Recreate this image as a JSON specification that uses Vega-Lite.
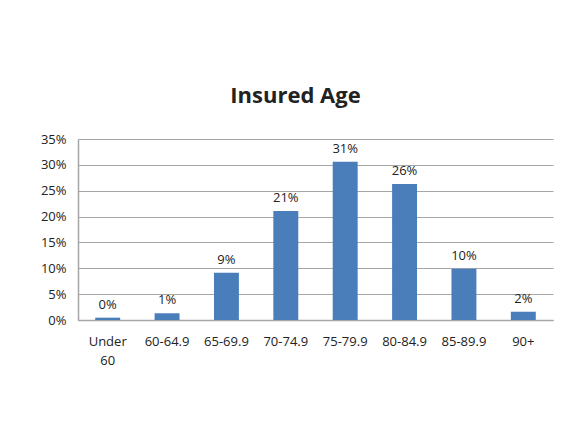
{
  "$schema": "https://vega.github.io/schema/vega-lite/v6.json",
  "width": 475,
  "height": 181,
  "autosize": "none",
  "padding": {"left": 78, "top": 139, "right": 14, "bottom": 123},
  "background": "white",
  "title": {
    "text": "Insured Age",
    "font": "Open Sans",
    "fontSize": 22,
    "fontWeight": "bold",
    "color": "#222222",
    "anchor": "middle",
    "dx": -20,
    "offset": 25
  },
  "data": {
    "values": [
      {"age": "Under 60", "share": 0.0045},
      {"age": "60-64.9", "share": 0.013},
      {"age": "65-69.9", "share": 0.0915},
      {"age": "70-74.9", "share": 0.211},
      {"age": "75-79.9", "share": 0.306},
      {"age": "80-84.9", "share": 0.263},
      {"age": "85-89.9", "share": 0.099},
      {"age": "90+", "share": 0.016}
    ]
  },
  "encoding": {
    "x": {
      "field": "age",
      "type": "nominal",
      "sort": null,
      "scale": {"paddingInner": 0.58, "paddingOuter": 0.29},
      "axis": {
        "title": null,
        "labelAngle": 0,
        "labelFont": "Open Sans",
        "labelFontSize": 13,
        "labelColor": "#222222",
        "labelPadding": 15,
        "labelLineHeight": 19,
        "labelExpr": "split(datum.label, ' ')",
        "ticks": false,
        "domainColor": "#a6a6a6",
        "domainWidth": 1.5
      }
    },
    "y": {
      "field": "share",
      "type": "quantitative",
      "scale": {"domain": [0, 0.35], "nice": false},
      "axis": {
        "title": null,
        "values": [0, 0.05, 0.1, 0.15, 0.2, 0.25, 0.3, 0.35],
        "format": ".0%",
        "labelFont": "Open Sans",
        "labelFontSize": 13,
        "labelColor": "#222222",
        "labelPadding": 12,
        "ticks": false,
        "gridColor": "#a6a6a6",
        "gridWidth": 1.2,
        "domainColor": "#a6a6a6",
        "domainWidth": 1.5
      }
    }
  },
  "layer": [
    {"mark": {"type": "bar", "color": "#4a7ebb"}},
    {
      "mark": {
        "type": "text",
        "baseline": "bottom",
        "dy": -6,
        "font": "Open Sans",
        "fontSize": 13,
        "color": "#222222"
      },
      "encoding": {"text": {"field": "share", "type": "quantitative", "format": ".0%"}}
    }
  ],
  "config": {"view": {"stroke": null}}
}
